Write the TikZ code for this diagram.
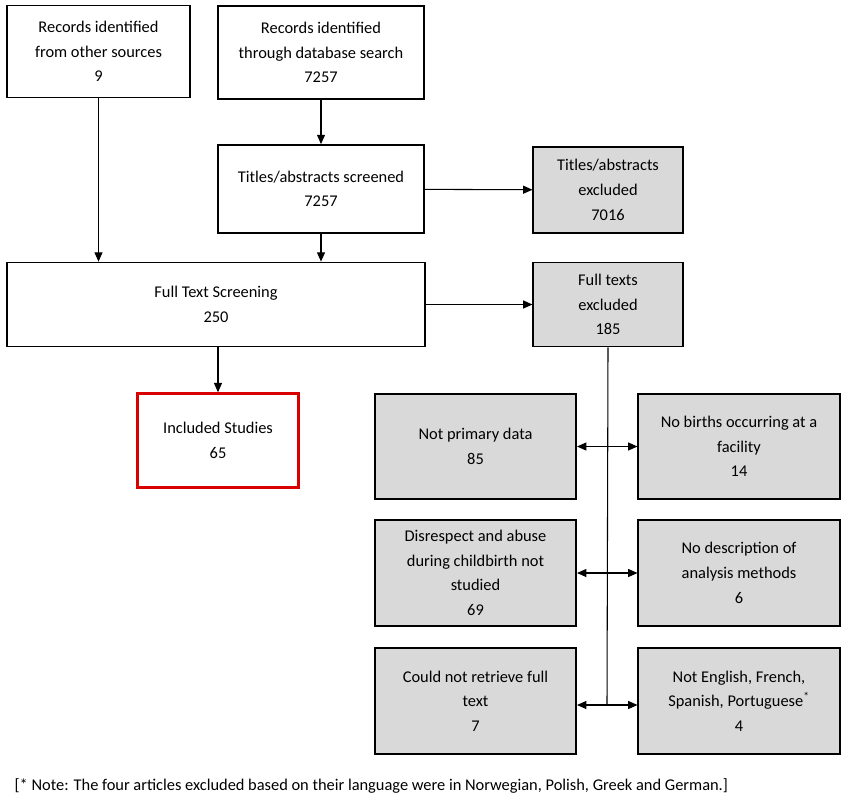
\documentclass[tikz,border=0pt]{standalone}
\usepackage{fontspec}
\setmainfont{Carlito}
\usetikzlibrary{arrows.meta}
\begin{document}
\begin{tikzpicture}[x=0.75pt,y=-0.75pt,
 box/.style={draw=black,line width=1.3pt,align=center,font=\fontsize{12.3}{18.5}\selectfont,inner sep=2pt},
 gbox/.style={box,fill=gray!30},
 arr/.style={-{Triangle[length=7pt,width=6pt]},line width=0.8pt}]
\useasboundingbox (0,0) rectangle (853,800);
\node[box,minimum width=137pt,minimum height=69pt] (A) at (98.5,51.5) {Records identified\\from other sources\\9};
\node[box,minimum width=155pt,minimum height=70pt] (B) at (321,52.5) {Records identified\\through database search\\7257};
\node[box,minimum width=155pt,minimum height=66pt] (C) at (321,189) {Titles/abstracts screened\\7257};
\node[gbox,minimum width=112pt,minimum height=64pt] (D) at (608,190) {Titles/abstracts\\excluded\\7016};
\node[box,minimum width=313pt,minimum height=63pt] (E) at (216,304.5) {Full Text Screening\\250};
\node[gbox,minimum width=112pt,minimum height=63pt] (F) at (608,304.5) {Full texts\\excluded\\185};
\node[box,draw=red!85!black,line width=2.3pt,minimum width=121pt,minimum height=70pt] (G) at (218,440.5) {Included Studies\\65};
\node[gbox,minimum width=151pt,minimum height=79pt] (H) at (475.5,446.5) {Not primary data\\85};
\node[gbox,minimum width=151pt,minimum height=79pt] (I) at (739,446.5) {No births occurring at a\\facility\\14};
\node[gbox,minimum width=151pt,minimum height=79pt] (J) at (475.5,573) {Disrespect and abuse\\during childbirth not\\studied\\69};
\node[gbox,minimum width=151pt,minimum height=79pt] (K) at (739,573) {No description of\\analysis methods\\6};
\node[gbox,minimum width=151pt,minimum height=79pt] (L) at (475.5,701) {Could not retrieve full\\text\\7};
\node[gbox,minimum width=151pt,minimum height=79pt] (M) at (739,701) {Not English, French,\\Spanish, Portuguese\textsuperscript{*}\\4};
\node[anchor=west,font=\fontsize{12.3}{14}\selectfont] (N) at (10,786) {[* Note: The four articles excluded based on their language were in Norwegian, Polish, Greek and German.]};
\draw[arr] (A.south) -- (A.south |- E.north);
\draw[arr] (B) -- (C);
\draw[arr] (C) -- (C.south |- E.north);
\draw[arr] (C) -- (D);
\draw[arr] (E.east |- F) -- (F);
\draw[arr] (G.north |- E.south) -- (G);
\coordinate (v1) at (607,446.5);
\coordinate (v2) at (607,573);
\coordinate (v3) at (607,705);
\draw[line width=0.8pt] (F.south) -- (v3);
\foreach \v/\l/\r in {v1/H/I,v2/J/K,v3/L/M}{
 \draw[arr] (\v) -- (\v -| \l.east);
 \draw[arr] (\v) -- (\v -| \r.west);
}
\end{tikzpicture}
\end{document}
